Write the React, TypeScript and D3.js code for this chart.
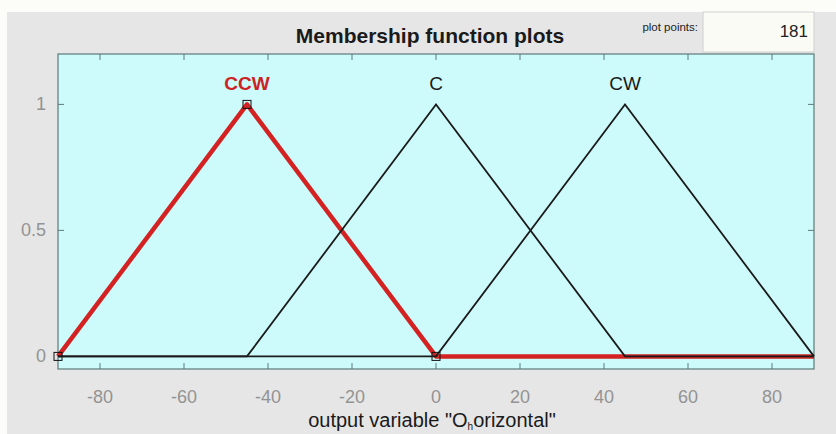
import React from "react";
import * as d3 from "d3";

// Membership functions of the output variable
const mfNames = ["CCW", "C", "CW"];
const mfParams = [
  [-90, -45, 0],
  [-45, 0, 45],
  [0, 45, 90],
];
const selectedIndex = 0;
const xRange = [-90, 90];
const yRange = [-0.05, 1.2];
const xTicks = [-80, -60, -40, -20, 0, 20, 40, 60, 80];
const yTicks = [0, 0.5, 1];
const yTickLabels = ["0", "0.5", "1"];
const plotPoints = 181;

const W = 836;
const H = 434;
const FONT = "'Liberation Sans', Arial, sans-serif";

export default function App() {
  const left = 58;
  const right = 814;
  const top = 54;
  const bottom = 369;

  const x = d3.scaleLinear().domain(xRange).range([left, right]);
  const y = d3.scaleLinear().domain(yRange).range([bottom, top]);
  const line = d3
    .line<[number, number]>()
    .x((d) => x(d[0]))
    .y((d) => y(d[1]));

  // triangular MF sampled at its breakpoints over the full range
  const trimf = (p: number[]): [number, number][] => [
    [xRange[0], 0],
    [p[0], 0],
    [p[1], 1],
    [p[2], 0],
    [xRange[1], 0],
  ];

  const tickLen = 6;
  const axisColor = "#5d7a7a";
  const labelGray = "#939393";

  const others = mfParams.map((p, i) => ({ p, i })).filter((d) => d.i !== selectedIndex);
  const sel = mfParams[selectedIndex];

  return (
    <svg
      width={W}
      height={H}
      viewBox={`0 0 ${W} ${H}`}
      style={{ position: "absolute", left: 0, top: 0, display: "block" }}
    >
      <rect x={0} y={0} width={W} height={H} fill="#fcfcf8" />
      <rect x={7} y={12} width={W - 7} height={H - 12} fill="#e6e6e6" />

      {/* title and plot-points field */}
      <text
        x={430}
        y={43}
        textAnchor="middle"
        fontFamily={FONT}
        fontWeight="bold"
        fontSize={21}
        fill="#1a1a1a"
      >
        Membership function plots
      </text>
      <text x={698} y={31} textAnchor="end" fontFamily={FONT} fontSize={11.5} fill="#222">
        plot points:
      </text>
      <rect x={703} y={12} width={111} height={40} fill="#fbfbf6" stroke="#cfcfcf" />
      <text x={808} y={37} textAnchor="end" fontFamily={FONT} fontSize={17} fill="#222">
        {plotPoints}
      </text>

      {/* axes box */}
      <rect
        x={left}
        y={top}
        width={right - left}
        height={bottom - top}
        fill="#cdfafa"
        stroke={axisColor}
        strokeWidth={1.2}
      />
      {xTicks.map((t) => (
        <g key={`xt${t}`}>
          <line x1={x(t)} x2={x(t)} y1={bottom} y2={bottom - tickLen} stroke={axisColor} />
          <line x1={x(t)} x2={x(t)} y1={top} y2={top + tickLen} stroke={axisColor} />
          <text
            x={x(t)}
            y={403}
            textAnchor="middle"
            fontFamily={FONT}
            fontSize={18}
            fill={labelGray}
          >
            {t < 0 ? `-${Math.abs(t)}` : t}
          </text>
        </g>
      ))}
      {yTicks.map((t, i) => (
        <g key={`yt${t}`}>
          <line x1={left} x2={left + tickLen} y1={y(t)} y2={y(t)} stroke={axisColor} />
          <line x1={right} x2={right - tickLen} y1={y(t)} y2={y(t)} stroke={axisColor} />
          <text
            x={46}
            y={y(t) + 6}
            textAnchor="end"
            fontFamily={FONT}
            fontSize={18}
            fill={labelGray}
          >
            {yTickLabels[i]}
          </text>
        </g>
      ))}

      {/* selected MF drawn thick in red, the others thin in black */}
      <path d={line(trimf(sel)) ?? ""} fill="none" stroke="#d42222" strokeWidth={4.5} strokeLinejoin="round" />
      {others.map(({ p, i }) => (
        <path key={`mf${i}`} d={line(trimf(p)) ?? ""} fill="none" stroke="#1b1b1b" strokeWidth={1.8} />
      ))}
      {[
        [sel[0], 0],
        [sel[1], 1],
        [sel[2], 0],
      ].map(([vx, vy], k) => (
        <rect
          key={`m${k}`}
          x={x(vx) - 4}
          y={y(vy) - 4}
          width={8}
          height={8}
          fill="none"
          stroke="#111"
          strokeWidth={1}
        />
      ))}

      {mfParams.map((p, i) => (
        <text
          key={`lab${i}`}
          x={x(p[1])}
          y={y(1) - 14}
          textAnchor="middle"
          fontFamily={FONT}
          fontSize={19}
          fontWeight={i === selectedIndex ? "bold" : "normal"}
          fill={i === selectedIndex ? "#cc2222" : "#1a1a1a"}
        >
          {mfNames[i]}
        </text>
      ))}

      <text x={x(0) - 4} y={427} textAnchor="middle" fontFamily={FONT} fontSize={20} fill="#1a1a1a">
        output variable "O
        <tspan fontSize={10} dy={3}>h</tspan>
        <tspan dy={-3}>orizontal"</tspan>
      </text>
    </svg>
  );
}
